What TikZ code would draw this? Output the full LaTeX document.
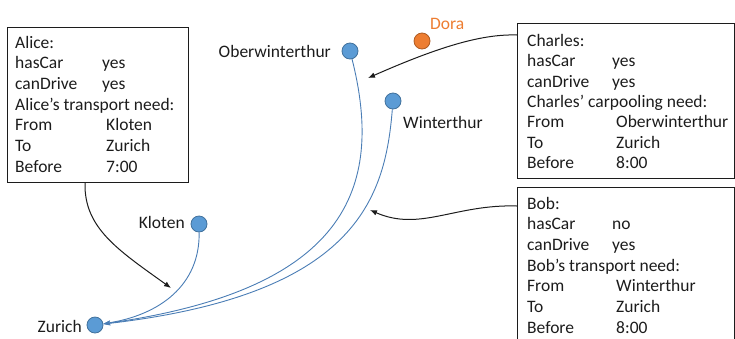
\documentclass[tikz,border=0pt]{standalone}
\usepackage{fontspec}
\setmainfont{Carlito}
\usetikzlibrary{arrows.meta}

\definecolor{placefill}{HTML}{5B9BD5}
\definecolor{placeedge}{HTML}{41719C}
\definecolor{dorafill}{HTML}{ED7D31}
\definecolor{doraedge}{HTML}{AE5A21}
\definecolor{routeline}{HTML}{4A7DB5}
\definecolor{ink}{HTML}{1C1C1C}

% one "key  value" line of a person card
\newcommand\cardrow[3]{\makebox[#1pt][l]{#2}#3}

\begin{document}
\begin{tikzpicture}[x=1pt,y=-1pt,
  txt/.style={font=\fontsize{17.5}{20.7}\selectfont, text=ink, inner sep=0pt},
  tighttxt/.style={txt, font=\fontsize{17.5}{20.3}\selectfont},
  card/.style={draw=ink, line width=1.1pt, anchor=north west, inner sep=0pt},
  place/.style={circle, minimum size=16pt, inner sep=0pt, fill=placefill, draw=placeedge, line width=0.8pt},
  other/.style={circle, minimum size=16pt, inner sep=0pt, fill=dorafill, draw=doraedge, line width=0.8pt},
  route/.style={draw=routeline, line width=0.9pt, -{Stealth[length=7pt,width=4.5pt]}},
  need/.style={draw=ink, line width=1pt, -{Latex[length=7pt,width=5.5pt]}}]

\clip (0,0) rectangle (735,338);

% person cards
\node[card, minimum width=181pt, minimum height=155pt] (alicebox) at (7,27) {};
\node[card, minimum width=217pt, minimum height=155pt] (charlesbox) at (517,23) {};
\node[card, minimum width=217pt, minimum height=170pt] (bobbox) at (517,187) {};

\node[txt, anchor=base west] (alicetext) at (15,48) {\begin{tabular}[t]{@{}l@{}}
Alice:\\
\cardrow{87}{hasCar}{yes}\\
\cardrow{87}{canDrive}{yes}\\
Alice’s transport need:\\
\cardrow{91}{From}{Kloten}\\
\cardrow{91}{To}{Zurich}\\
\cardrow{91}{Before}{7:00}
\end{tabular}};

\node[tighttxt, anchor=base west] (charlestext) at (527,46.5) {\begin{tabular}[t]{@{}l@{}}
Charles:\\
\cardrow{85}{hasCar}{yes}\\
\cardrow{85}{canDrive}{yes}\\
Charles’ carpooling need:\\
\cardrow{89}{From}{Oberwinterthur}\\
\cardrow{89}{To}{Zurich}\\
\cardrow{89}{Before}{8:00}
\end{tabular}};

\node[txt, anchor=base west] (bobtext) at (527,209) {\begin{tabular}[t]{@{}l@{}}
Bob:\\
\cardrow{85}{hasCar}{no}\\
\cardrow{85}{canDrive}{yes}\\
Bob’s transport need:\\
\cardrow{89}{From}{Winterthur}\\
\cardrow{89}{To}{Zurich}\\
\cardrow{89}{Before}{8:00}
\end{tabular}};

% places
\node[place] (ober) at (350,51) {};
\node[place] (winti) at (393,101) {};
\node[place] (kloten) at (199,224) {};
\node[place] (zurich) at (95,325) {};
\node[other] (dora) at (422,41) {};

\node[txt, anchor=base east] (oberlabel) at (331,57) {Oberwinterthur};
\node[txt, anchor=base west] (wintilabel) at (403,128) {Winterthur};
\node[txt, anchor=base east] (klotenlabel) at (185,228) {Kloten};
\node[txt, anchor=base east] (zurichlabel) at (82,332) {Zurich};
\node[txt, anchor=base west, text=dorafill] (doralabel) at (430,29) {Dora};

% routes into Zurich
\draw[route] (ober) .. controls (385,190) and (345,290) .. (zurich);
\draw[route] (winti) .. controls (385,200) and (355,295) .. (zurich);
\draw[route] (kloten) .. controls (200,285) and (160,315) .. (zurich);

% needs pointing at the routes
\coordinate (aliceneed) at (171,288);
\coordinate (charlesneed) at (368,78);
\coordinate (bobneed) at (370,210);
\draw[need] (alicebox.south -| 85,0) .. controls (84,228) and (118,250) .. (aliceneed);
\draw[need] (charlesbox.west |- 0,35) .. controls (485,34) and (445,44) .. (charlesneed);
\draw[need] (bobbox.west |- 0,206) .. controls (455,204) and (420,232) .. (bobneed);

\end{tikzpicture}
\end{document}
